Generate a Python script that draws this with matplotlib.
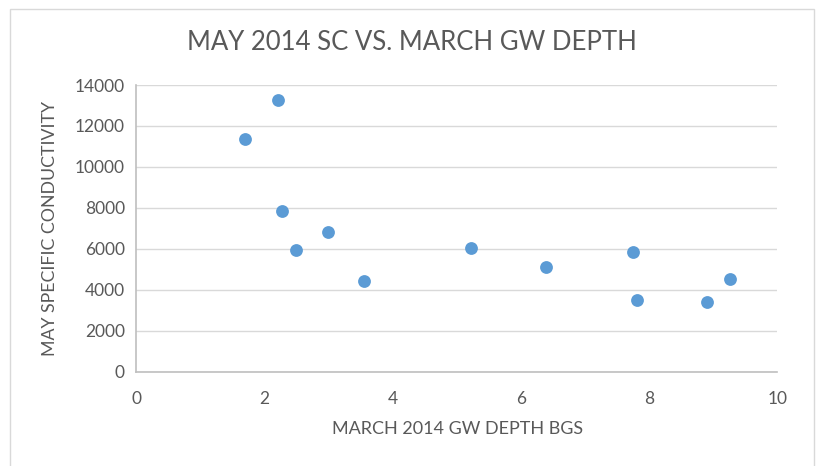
import matplotlib
matplotlib.use("Agg")
import matplotlib.pyplot as plt
from matplotlib.patches import Rectangle

gw_depth = [1.70, 2.22, 2.28, 2.49, 2.99, 3.56, 5.22, 6.39, 7.75, 7.81, 8.90, 9.27]
sc_may = [11380, 13280, 7860, 5940, 6820, 4430, 6030, 5110, 5860, 3490, 3400, 4540]
x_ticks = [0, 2, 4, 6, 8, 10]
y_ticks = [0, 2000, 4000, 6000, 8000, 10000, 12000, 14000]

title = "MAY 2014 SC VS. MARCH GW DEPTH"
xlabel = "MARCH 2014 GW DEPTH BGS"
ylabel = "MAY SPECIFIC CONDUCTIVITY"

plt.rcParams['font.family'] = ['Lato', 'DejaVu Sans']
txt = '#595959'

fig = plt.figure(figsize=(8.17, 4.66), dpi=100)
fig.patches.append(Rectangle((10/817, -0.1), (814-10)/817, 1 - 9/466 + 0.1,
                             transform=fig.transFigure, fill=False,
                             edgecolor='#D9D9D9', linewidth=1))
ax = fig.add_axes([136/817, 1 - 371.7/466, (777.3-136)/817, (371.7-85)/466])

ax.scatter(gw_depth, sc_may, s=85, color='#5B9BD5', zorder=3, linewidths=0)
ax.set_xlim(0, 10)
ax.set_ylim(0, 14000)
ax.set_xticks(x_ticks)
ax.set_yticks(y_ticks)
ax.grid(axis='y', color='#D9D9D9', linewidth=1)
ax.set_axisbelow(True)
for s in ['top', 'right']:
    ax.spines[s].set_visible(False)
for s in ['left', 'bottom']:
    ax.spines[s].set_color('#BFBFBF')
    ax.spines[s].set_linewidth(1.2)
ax.tick_params(length=0, labelsize=12.5, colors=txt, pad=8)
ax.tick_params(axis='x', pad=14)

fig.text(412/817, 1 - 43/466, title, ha='center', va='center', fontsize=18.5, color=txt)
fig.text(458/817, 1 - 429/466, xlabel, ha='center', va='center', fontsize=13, color=txt)
fig.text(50/817, 1 - 228/466, ylabel, ha='center', va='center', rotation=90, fontsize=12.8, color=txt)

fig.savefig('out.png', dpi=100, facecolor='white')
